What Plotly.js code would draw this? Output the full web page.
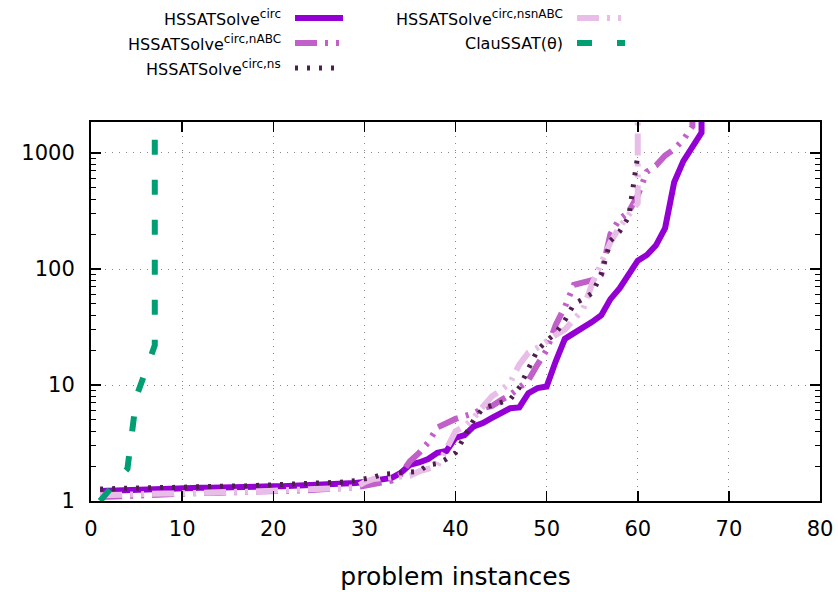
<!DOCTYPE html>
<html><head><meta charset="utf-8">
<script src="https://cdn.plot.ly/plotly-3.0.1.min.js"></script>
<style>html,body{margin:0;padding:0;background:#fff}#chart{width:838px;height:592px}</style>
</head><body><div id="chart"></div>
<script>
// ---- data (sorted solve times per instance; instance number = position + 1) ----
const seriesBase = ['HSSATSolve','HSSATSolve','HSSATSolve','HSSATSolve','ClauSSAT(θ)'];
const seriesSup = ['circ','circ,nABC','circ,ns','circ,nsnABC',''];
const circTimes = [1.22,1.23,1.24,1.25,1.26,1.27,1.27,1.28,1.28,1.29,
  1.29,1.30,1.30,1.31,1.31,1.32,1.32,1.33,1.33,1.34,
  1.34,1.35,1.35,1.36,1.36,1.37,1.38,1.40,1.43,1.46,
  1.50,1.53,1.58,1.75,2.05,2.15,2.30,2.60,2.70,3.50,
  3.70,4.40,4.70,5.20,5.80,6.30,6.40,8.50,9.40,9.70,
  16,25,28,31,35,40,55,68,90,118,
  132,160,225,560,850,1150,1500];
const nABCTimes = [1.08,1.09,1.10,1.10,1.11,1.11,1.12,1.13,1.14,1.15,
  1.16,1.17,1.18,1.18,1.19,1.20,1.20,1.21,1.21,1.22,
  1.22,1.23,1.23,1.24,1.25,1.26,1.27,1.29,1.31,1.35,
  1.40,1.45,1.50,1.70,2.20,2.60,3.20,4.30,4.70,5.10,
  5.40,5.70,6.30,6.60,7.40,8.20,9.50,11,15,20,
  33,47,73,76,80,90,200,270,310,430,
  690,780,950,1080,1300,1700];
const nsTimes = [1.27,1.28,1.28,1.29,1.29,1.30,1.30,1.31,1.31,1.32,
  1.32,1.33,1.33,1.34,1.34,1.35,1.35,1.36,1.36,1.37,
  1.37,1.38,1.39,1.40,1.41,1.42,1.44,1.46,1.50,1.55,
  1.60,1.70,1.72,1.75,1.78,1.80,2.05,2.10,2.30,2.60,
  3.60,5.00,6.30,6.70,7.00,7.50,9.50,14,20,24,
  28,36,50,55,62,90,175,210,280,950];
const nsnABCTimes = [1.12,1.13,1.13,1.14,1.14,1.15,1.15,1.16,1.16,1.17,
  1.17,1.18,1.18,1.19,1.19,1.20,1.20,1.21,1.21,1.22,
  1.22,1.23,1.23,1.24,1.25,1.26,1.27,1.29,1.31,1.45,
  1.55,1.58,1.60,1.62,1.65,1.80,1.90,2.00,2.80,4.00,
  4.40,5.20,6.50,8.00,9.00,10.5,15,19,21,24,
  27,30,37,45,75,115,170,230,290,370];
const clauTimes = [1.0,1.25,1.55,1.9,8.0,13.5,22];
const hitsTimeout = [true,true,false,true,true];
const TIMEOUT = 1e5;
const xTickVals = [0,10,20,30,40,50,60,70,80];
const yTickVals = [1,10,100,1000];
const yTickText = ['1','10','100','1000'];

// ---- styles ----
const colors = ['#9400d3','#c060c8','#4e1e4e','#e8bee8','#009e73'];
const dashes = ['solid','22px,8px,3px,8px,3px,8px','3px,9px','22px,8px,3px,8px,3px,8px','15px,25px'];
const widths = [6,6,5,6,6];
const allTimes = [circTimes,nABCTimes,nsTimes,nsnABCTimes,clauTimes];
const drawOrder = [0,1,3,2,4];
const seriesNames = seriesBase.map((b,i)=> seriesSup[i] ? b+'<sup>'+seriesSup[i]+'</sup>' : b);

const traces = drawOrder.map(i => {
  const t = allTimes[i];
  const x = t.map((v,k)=>k+1);
  const y = t.slice();
  if (hitsTimeout[i]) { x.push(t.length); y.push(TIMEOUT); }
  return {x, y, type:'scatter', mode:'lines', name:seriesNames[i], showlegend:false,
    line:{color:colors[i], width:widths[i], dash:dashes[i]}, hoverinfo:'skip'};
});

// minor log ticks
const minorVals = [];
[1,10,100,1000].forEach(d=>{for(let k=2;k<=9;k++) minorVals.push(d*k);});

// ---- legend (gnuplot style: text right-aligned, sample to the right) ----
const L=91, T=122, W=729, H=379;
const px2x = px => (px-L)/W;
const py2y = py => (T+H-py)/H;
const colTextRight=[283,565], colS0=[295,577], colS1=[343,625], rowY=[18,43,68];
const annotations=[], shapes=[];
seriesBase.forEach((b,i)=>{
  const c = i<3?0:1, r = i<3?i:i-3;
  const txt = seriesSup[i] ? b+'<sup><span style="font-size:12px">'+seriesSup[i]+'</span></sup>' : b;
  annotations.push({xref:'paper',yref:'paper',x:px2x(colTextRight[c]),y:py2y(rowY[r]),
    xanchor:'right',yanchor:'middle',text:txt,showarrow:false,
    font:{family:'DejaVu Sans',size:16,color:'#000'}});
  shapes.push({type:'line',xref:'paper',yref:'paper',x0:px2x(colS0[c]),x1:px2x(colS1[c]),
    y0:py2y(rowY[r]),y1:py2y(rowY[r]),line:{color:colors[i],width:widths[i],dash:dashes[i]}});
});

const axisFont = {family:'DejaVu Sans',size:21,color:'#000'};
const layout = {
  width:838, height:592,
  margin:{l:L, r:838-L-W, t:T, b:592-T-H, pad:0},
  paper_bgcolor:'#fff', plot_bgcolor:'#fff',
  showlegend:false,
  xaxis:{range:[0,80], tickmode:'array', tickvals:xTickVals, ticks:'inside', ticklen:10, tickwidth:1.5,
    tickcolor:'#000', mirror:'allticks', showline:true, linecolor:'#000', linewidth:2,
    showgrid:true, gridcolor:'#888', gridwidth:1, griddash:'1px,6px', zeroline:false,
    tickfont:axisFont, ticklabelstandoff:8,
    title:{text:'problem instances', font:{family:'DejaVu Sans',size:25,color:'#000'}, standoff:27}},
  yaxis:{type:'log', range:[0, Math.log10(1850)], tickmode:'array', tickvals:yTickVals, ticktext:yTickText,
    ticks:'inside', ticklen:10, tickwidth:1.5, tickcolor:'#000', mirror:'allticks', showline:true,
    linecolor:'#000', linewidth:2, showgrid:true, gridcolor:'#888', gridwidth:1, griddash:'1px,6px',
    zeroline:false, tickfont:axisFont, ticklabelstandoff:10,
    minor:{tickmode:'array', tickvals:minorVals, ticks:'inside', ticklen:5, tickwidth:1, tickcolor:'#000', showgrid:false}},
  annotations, shapes
};
Plotly.newPlot('chart', traces, layout, {displayModeBar:false, staticPlot:true});
</script></body></html>
